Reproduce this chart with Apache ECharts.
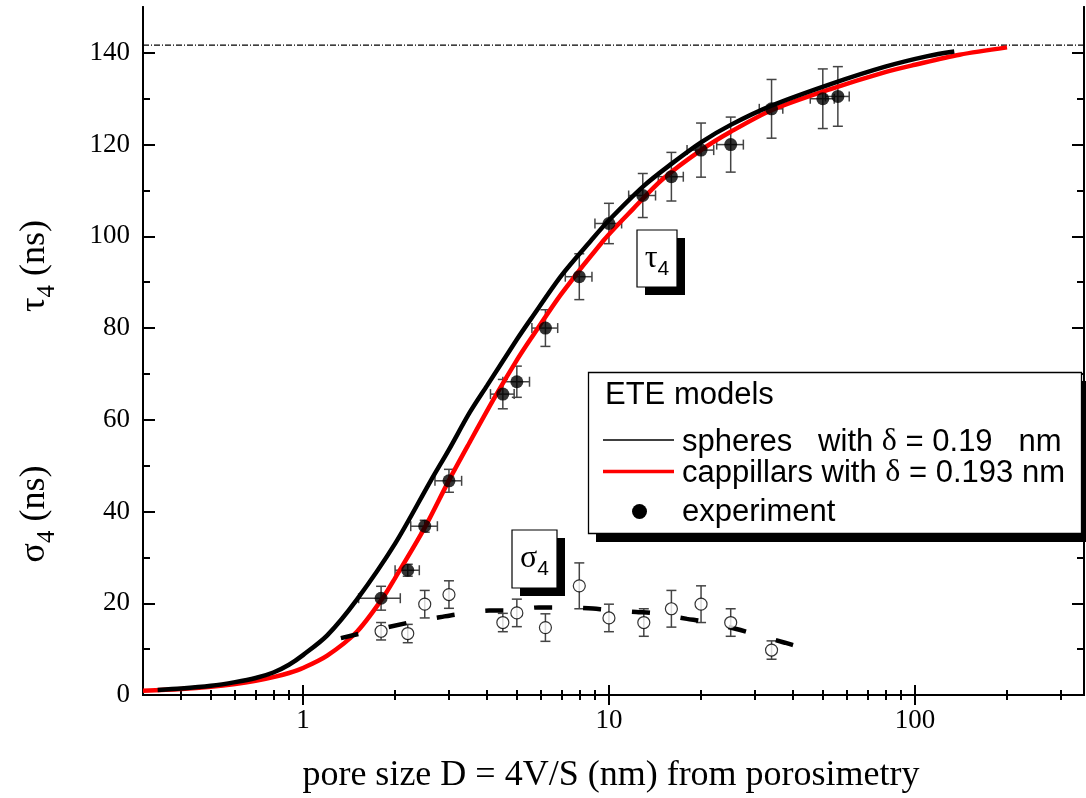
<!DOCTYPE html>
<html><head><meta charset="utf-8">
<script src="https://cdn.jsdelivr.net/npm/echarts@6/dist/echarts.min.js"></script>
<style>html,body{margin:0;padding:0;background:#fff}#c{width:1086px;height:798px}</style>
</head><body><div id="c"></div>
<script>
// ---- data ----
const tauD    = [1.8, 2.2, 2.5, 3.0, 4.5, 5.0, 6.2, 8.0, 10.0, 12.9, 16.0, 20.0, 25.0, 34.0, 50.0, 56.0];
const tauVal  = [21.1, 27.2, 36.8, 46.7, 65.6, 68.3, 80.0, 91.2, 102.8, 108.9, 113.0, 118.8, 120.0, 127.8, 130.0, 130.5];
const tauErr  = [2.6, 1.3, 1.3, 2.5, 3.2, 3.4, 4.0, 5.0, 4.4, 4.8, 5.3, 5.9, 6.0, 6.4, 6.5, 6.5];
const tauDErr = [0.28, 0.2, 0.25, 0.3, 0.4, 0.5, 0.6, 0.8, 1.0, 1.3, 1.5, 2.0, 2.5, 3.0, 4.5, 5.0];

const sigD    = [1.8, 2.2, 2.5, 3.0, 4.5, 5.0, 6.2, 8.0, 10.0, 13.0, 16.0, 20.0, 25.0, 34.0];
const sigVal  = [13.9, 13.4, 19.8, 21.9, 15.8, 17.9, 14.7, 23.8, 16.8, 15.8, 18.8, 19.8, 15.8, 9.8];
const sigErr  = [1.9, 2.0, 3.0, 3.0, 2.0, 3.0, 3.0, 5.0, 3.0, 3.0, 4.0, 4.0, 3.0, 2.0];

const sigModelD = [1.33, 2.22, 2.82, 3.2, 4.06, 4.67, 5.9, 6.77, 8.56, 9.78, 12.3, 14.1, 18.0, 20.5, 26.1, 29.5, 37.6, 42.9];
const sigModelV = [12.4, 15.8, 17.0, 17.6, 18.4, 18.4, 19.1, 19.1, 18.9, 18.6, 18.1, 17.8, 16.6, 16.0, 14.4, 13.4, 11.4, 10.3];

const sphD = [0.335, 0.4, 0.5, 0.6, 0.7, 0.8, 0.9, 1.0, 1.2, 1.5, 2.0, 2.62, 3.0, 3.5, 4.0, 5.0, 5.56, 7.0, 8.74, 10.0, 13.0, 16.0, 20.0, 25.0, 34.0, 53.0, 80.0, 110.0, 134.5];
const sphV = [1.1, 1.4, 2.0, 2.8, 3.7, 4.9, 6.6, 8.7, 13.0, 20.8, 33.0, 46.8, 53.5, 61.5, 67.5, 77.5, 82.0, 91.5, 99.1, 103.5, 111.0, 115.8, 120.5, 124.3, 128.5, 133.2, 137.0, 139.3, 140.3];

const capD = [0.3, 0.4, 0.5, 0.6, 0.7, 0.8, 0.9, 1.0, 1.2, 1.5, 1.82, 2.0, 2.5, 3.0, 3.5, 4.2, 5.0, 5.56, 7.0, 9.6, 12.0, 15.0, 20.0, 25.0, 34.0, 53.0, 80.0, 100.0, 140.0, 200.0];
const capV = [0.9, 1.3, 1.8, 2.4, 3.1, 3.9, 4.8, 5.9, 8.6, 13.8, 21.1, 25.5, 36.5, 46.8, 55.0, 64.5, 73.0, 77.7, 87.5, 99.1, 106.0, 112.5, 118.8, 122.8, 127.5, 132.1, 135.8, 137.4, 139.6, 141.2];

const limitLevel = 141.7;
const xRange = [0.3, 357];
const yRange = [0, 150];
const xMajor = [1, 10, 100];
const xMinor = [0.4,0.5,0.6,0.7,0.8,0.9, 2,3,4,5,6,7,8,9, 20,30,40,50,60,70,80,90, 200,300];
const yMajor = [0,20,40,60,80,100,120,140];
const yMinor = [10,30,50,70,90,110,130];

const legendTitle = 'ETE models';
const legendRows = ['spheres   with ', ' = 0.19   nm', 'cappillars with ', ' = 0.193 nm', 'experiment'];
const xTitle = 'pore size D = 4V/S (nm) from porosimetry';

// ---- chart ----
const SERIF = 'Liberation Serif, Times New Roman, serif';
const SANS = 'Liberation Sans, Arial, sans-serif';
const chart = echarts.init(document.getElementById('c'), null, {renderer: 'canvas'});

function xAx(pos, ticks, len, labels) {
  return {
    type: 'log', logBase: 10, min: xRange[0], max: xRange[1], position: pos,
    axisLine: {show: true, lineStyle: {color: '#000', width: 2}},
    axisTick: {show: true, inside: true, length: len, lineStyle: {color: '#000', width: 2}, customValues: ticks},
    axisLabel: labels ? {show: true, customValues: xMajor, color: '#000', fontFamily: SERIF, fontSize: 27, margin: 12} : {show: false},
    splitLine: {show: false}, minorTick: {show: false}
  };
}
function yAx(pos, ticks, len, labels) {
  return {
    type: 'value', min: yRange[0], max: yRange[1], position: pos,
    axisLine: {show: true, lineStyle: {color: '#000', width: 2}},
    axisTick: {show: true, inside: true, length: len, lineStyle: {color: '#000', width: 2}, customValues: ticks},
    axisLabel: labels ? {show: true, customValues: yMajor, color: '#000', fontFamily: SERIF, fontSize: 27, margin: 13} : {show: false},
    splitLine: {show: false}
  };
}

function errRender(hasX) {
  return function (params, api) {
    const x = api.value(0), y = api.value(1);
    const c = api.coord([x, y]);
    const lo = api.coord([x, api.value(4)]);
    const hi = api.coord([x, api.value(5)]);
    const cap = 5;
    const st = {stroke: '#444', lineWidth: 1.5};
    const ch = [
      {type: 'line', shape: {x1: c[0], y1: lo[1], x2: c[0], y2: hi[1]}, style: st},
      {type: 'line', shape: {x1: c[0] - cap, y1: lo[1], x2: c[0] + cap, y2: lo[1]}, style: st},
      {type: 'line', shape: {x1: c[0] - cap, y1: hi[1], x2: c[0] + cap, y2: hi[1]}, style: st}
    ];
    if (hasX) {
      const l = api.coord([api.value(2), y]);
      const r = api.coord([api.value(3), y]);
      ch.push({type: 'line', shape: {x1: l[0], y1: c[1], x2: r[0], y2: c[1]}, style: st});
      ch.push({type: 'line', shape: {x1: l[0], y1: c[1] - cap, x2: l[0], y2: c[1] + cap}, style: st});
      ch.push({type: 'line', shape: {x1: r[0], y1: c[1] - cap, x2: r[0], y2: c[1] + cap}, style: st});
    }
    return {type: 'group', children: ch};
  };
}

const tauErrData = tauD.map((d, i) => [d, tauVal[i], d - tauDErr[i], d + tauDErr[i], tauVal[i] - tauErr[i], tauVal[i] + tauErr[i]]);
const sigErrData = sigD.map((d, i) => [d, sigVal[i], d, d, sigVal[i] - sigErr[i], sigVal[i] + sigErr[i]]);
const zip = (a, b) => a.map((v, i) => [v, b[i]]);

function boxLabel(x, y, w, h, sym) {
  return [
    {type: 'rect', shape: {x: x + 8, y: y + 8, width: w, height: h}, style: {fill: '#000'}, z: 100},
    {type: 'rect', shape: {x: x, y: y, width: w, height: h}, style: {fill: '#fff', stroke: '#000', lineWidth: 1.2}, z: 101},
    {type: 'text', x: x + w / 2, y: y + h / 2, z: 102,
      style: {text: '{g|' + sym + '}{s|4}', align: 'center', verticalAlign: 'middle',
        rich: {g: {fontFamily: SERIF, fontSize: 32, fill: '#000', verticalAlign: 'middle', lineHeight: 42},
               s: {fontFamily: SANS, fontSize: 21, fill: '#000', verticalAlign: 'bottom', lineHeight: 42}}}}
  ];
}
function yTitle(sym, cy) {
  return {type: 'text', x: 35, y: cy, rotation: Math.PI / 2, z: 100,
    style: {text: '{a|' + sym + '}{s|4}{a| (ns)}', align: 'center', verticalAlign: 'middle',
      rich: {a: {fontFamily: SERIF, fontSize: 36, fill: '#000', verticalAlign: 'middle', lineHeight: 50},
             s: {fontFamily: SERIF, fontSize: 25, fill: '#000', verticalAlign: 'bottom', lineHeight: 50}}}};
}
const legRich = {t: {fontFamily: SANS, fontSize: 31, fill: '#000'}, d: {fontFamily: SERIF, fontSize: 32, fill: '#000'}};

const option = {
  backgroundColor: '#fff',
  animation: false,
  grid: {left: 143, right: 2, top: 7, bottom: 103, containLabel: false},
  xAxis: [xAx('bottom', xMajor, 10, true), xAx('bottom', xMinor, 5, false), xAx('top', xMajor, 10, false), xAx('top', xMinor, 5, false)],
  yAxis: [yAx('left', yMajor, 12, true), yAx('left', yMinor, 7, false), yAx('right', yMajor, 12, false), yAx('right', yMinor, 7, false)],
  series: [
    {type: 'line', data: [[xRange[0], limitLevel], [xRange[1], limitLevel]], showSymbol: false, z: 1,
      lineStyle: {color: '#000', width: 1.2, type: [6, 2, 1, 2]}},
    {type: 'custom', renderItem: errRender(true), data: tauErrData, encode: {x: 0, y: 1}, z: 2},
    {type: 'custom', renderItem: errRender(false), data: sigErrData, encode: {x: 0, y: 1}, z: 2},
    {type: 'line', data: zip(capD, capV), showSymbol: false, smooth: 0.3, z: 3, lineStyle: {color: '#ff0000', width: 4.5}},
    {type: 'line', data: zip(sphD, sphV), showSymbol: false, smooth: 0.3, z: 4, lineStyle: {color: '#000', width: 4.5}},
    {type: 'line', data: zip(sigModelD, sigModelV), showSymbol: false, smooth: 0.3, z: 4, lineStyle: {color: '#000', width: 4.5, type: [18, 31]}},
    {type: 'scatter', data: zip(sigD, sigVal), symbol: 'circle', symbolSize: 12, z: 5,
      itemStyle: {color: '#fff', borderColor: '#000', borderWidth: 1.2}},
    {type: 'scatter', data: zip(tauD, tauVal), symbol: 'circle', symbolSize: 13, z: 6, itemStyle: {color: '#000'}}
  ],
  graphic: [
    {type: 'text', x: 611, y: 776, z: 100, style: {text: xTitle, fontFamily: SERIF, fontSize: 36, fill: '#000', align: 'center', verticalAlign: 'middle'}},
    yTitle('τ', 266),
    yTitle('σ', 514),
    ...boxLabel(637, 230, 40, 57, 'τ'),
    ...boxLabel(512, 530, 45, 58, 'σ'),
    {type: 'rect', shape: {x: 596, y: 381, width: 493, height: 161}, style: {fill: '#000'}, z: 100},
    {type: 'rect', shape: {x: 588.5, y: 372.5, width: 493, height: 161}, style: {fill: '#fff', stroke: '#000', lineWidth: 1.3}, z: 101},
    {type: 'text', x: 605, y: 395, z: 102, style: {text: legendTitle, fontFamily: SANS, fontSize: 31, fill: '#000', verticalAlign: 'middle'}},
    {type: 'line', shape: {x1: 603, y1: 440, x2: 674, y2: 440}, style: {stroke: '#000', lineWidth: 1.5}, z: 102},
    {type: 'text', x: 682, y: 442, z: 102, style: {text: '{t|' + legendRows[0] + '}{d|δ}{t|' + legendRows[1] + '}', verticalAlign: 'middle', rich: legRich}},
    {type: 'line', shape: {x1: 603, y1: 471.5, x2: 674, y2: 471.5}, style: {stroke: '#ff0000', lineWidth: 3.5}, z: 102},
    {type: 'text', x: 682, y: 473, z: 102, style: {text: '{t|' + legendRows[2] + '}{d|δ}{t|' + legendRows[3] + '}', verticalAlign: 'middle', rich: legRich}},
    {type: 'circle', shape: {cx: 639.5, cy: 511.5, r: 7.5}, style: {fill: '#000'}, z: 102},
    {type: 'text', x: 682, y: 512, z: 102, style: {text: legendRows[4], fontFamily: SANS, fontSize: 31, fill: '#000', verticalAlign: 'middle'}}
  ]
};
chart.setOption(option);
</script>
</body></html>
